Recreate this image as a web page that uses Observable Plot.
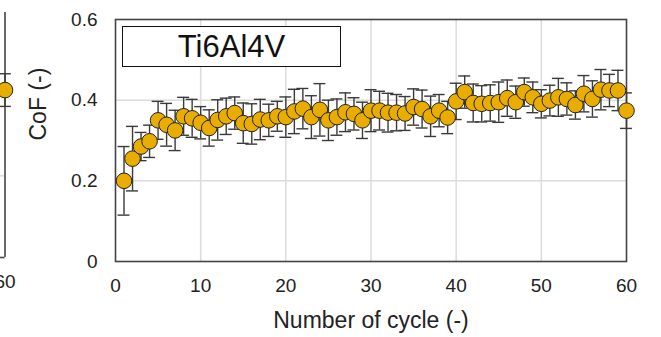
<!DOCTYPE html>
<html>
<head>
<meta charset="utf-8">
<script src="https://cdn.jsdelivr.net/npm/d3@7"></script>
<script src="https://cdn.jsdelivr.net/npm/@observablehq/plot@0.6"></script>
<style>
  html, body { margin: 0; padding: 0; background: #fff; }
  #wrap { position: relative; width: 661px; height: 337px; overflow: hidden; }
  #wrap svg { position: absolute; left: 0; top: 0; }
  #title {
    position: absolute; left: 122px; top: 26px; width: 219px; height: 41px;
    box-sizing: border-box; border: 1.5px solid #111; background: #fff;
    font-family: "Liberation Sans", Arial, sans-serif; font-size: 31px;
    line-height: 40px; text-align: center; color: #111;
  }
</style>
</head>
<body>
<div id="wrap"></div>
<script>
// ---- data ----
const cycles = [1,2,3,4,5,6,7,8,9,10,11,12,13,14,15,16,17,18,19,20,
  21,22,23,24,25,26,27,28,29,30,31,32,33,34,35,36,37,38,39,40,
  41,42,43,44,45,46,47,48,49,50,51,52,53,54,55,56,57,58,59,60];
const cof = [0.200,0.255,0.285,0.298,0.350,0.339,0.325,0.360,0.355,0.344,
  0.331,0.351,0.360,0.368,0.343,0.341,0.352,0.350,0.360,0.358,
  0.372,0.379,0.358,0.376,0.350,0.358,0.370,0.366,0.350,0.374,
  0.374,0.369,0.369,0.367,0.383,0.378,0.360,0.374,0.357,0.397,
  0.420,0.393,0.391,0.393,0.395,0.405,0.395,0.420,0.407,0.391,
  0.399,0.407,0.403,0.388,0.416,0.403,0.426,0.424,0.424,0.374];
const cofErr = [0.085,0.080,0.035,0.040,0.047,0.053,0.050,0.047,0.047,0.040,
  0.045,0.050,0.045,0.040,0.050,0.050,0.050,0.040,0.037,0.050,
  0.055,0.050,0.053,0.065,0.050,0.045,0.048,0.040,0.045,0.052,
  0.048,0.048,0.045,0.042,0.045,0.047,0.050,0.040,0.040,0.045,
  0.040,0.047,0.045,0.045,0.050,0.045,0.040,0.035,0.038,0.035,
  0.038,0.047,0.040,0.035,0.045,0.045,0.050,0.040,0.050,0.044];
const xTicks = [0,10,20,30,40,50,60];
const yTicks = [0,0.2,0.4,0.6];
const xGrid = [10,20,30,40,50];
const yGrid = [0.2,0.4];
const titleText = "Ti6Al4V";
const xLabel = "Number of cycle (-)";
const yLabel = "CoF (-)";
// neighbouring (cropped) panel on the left edge
const leftCycles = [60];
const leftCof = [0.41];
const leftErr = [0.04];
const leftTicks = [60];

const data = cycles.map((c, i) => ({cycle: c, cof: cof[i], lo: cof[i] - cofErr[i], hi: cof[i] + cofErr[i]}));
const leftData = leftCycles.map((c, i) => ({cycle: c, cof: leftCof[i], lo: leftCof[i] - leftErr[i], hi: leftCof[i] + leftErr[i]}));

const FONT = "'Liberation Sans', Arial, sans-serif";
const GOLD = "#e8ad00";
const GRID = "#dcdcdc";
const FRAME = "#444";
const BAR = "#3a3a3a";
const capHalf = 0.7;

const main = Plot.plot({
  width: 661, height: 337,
  marginLeft: 115, marginRight: 35, marginTop: 19, marginBottom: 76,
  x: {domain: [0, 60]},
  y: {domain: [0, 0.6]},
  style: {fontFamily: FONT, fontSize: "19px", color: "#222", background: "transparent"},
  marks: [
    Plot.gridX(xGrid, {stroke: GRID, strokeOpacity: 1, strokeWidth: 1.5}),
    Plot.gridY(yGrid, {stroke: GRID, strokeOpacity: 1, strokeWidth: 1.5}),
    Plot.frame({stroke: FRAME, strokeWidth: 1.6}),
    Plot.axisX(xTicks, {tickSize: 0, tickPadding: 17, label: null}),
    Plot.axisY(yTicks, {tickSize: 0, tickPadding: 18, label: null, tickFormat: d => d === 0 ? "0" : d.toFixed(1)}),
    Plot.ruleX(data, {x: "cycle", y1: "lo", y2: "hi", stroke: BAR, strokeWidth: 1.4}),
    Plot.ruleY(data, {y: "lo", x1: d => d.cycle - capHalf, x2: d => d.cycle + capHalf, stroke: BAR, strokeWidth: 1.4}),
    Plot.ruleY(data, {y: "hi", x1: d => d.cycle - capHalf, x2: d => d.cycle + capHalf, stroke: BAR, strokeWidth: 1.4}),
    Plot.dot(data, {x: "cycle", y: "cof", r: 7.8, fill: GOLD, stroke: "#222", strokeWidth: 1}),
    Plot.text([xLabel], {frameAnchor: "bottom", dy: 59.5, lineAnchor: "middle", fontSize: 23, fill: "#222"}),
    Plot.text([yLabel], {frameAnchor: "left", dx: -77, rotate: -90, lineAnchor: "middle", fontSize: 23, fill: "#222"})
  ]
});

const left = Plot.plot({
  width: 40, height: 337,
  marginLeft: 0, marginRight: 35.5, marginTop: 12, marginBottom: 80,
  x: {domain: [59.5, 60], axis: null},
  y: {domain: [0, 0.6], axis: null},
  style: {fontFamily: FONT, fontSize: "19px", color: "#222", background: "transparent"},
  marks: [
    Plot.gridY(yGrid, {stroke: GRID, strokeOpacity: 1, strokeWidth: 1.5}),
    Plot.ruleX(leftTicks, {stroke: FRAME, strokeWidth: 1.6}),
    Plot.ruleY([0], {stroke: FRAME, strokeWidth: 1.6}),
    Plot.axisX(leftTicks, {tickSize: 0, tickPadding: 17, label: null}),
    Plot.ruleX(leftData, {x: "cycle", y1: "lo", y2: "hi", stroke: BAR, strokeWidth: 1.4}),
    Plot.ruleY(leftData, {y: "lo", x1: d => d.cycle - capHalf, x2: d => d.cycle + capHalf, stroke: BAR, strokeWidth: 1.4}),
    Plot.ruleY(leftData, {y: "hi", x1: d => d.cycle - capHalf, x2: d => d.cycle + capHalf, stroke: BAR, strokeWidth: 1.4}),
    Plot.dot(leftData, {x: "cycle", y: "cof", r: 7.8, fill: GOLD, stroke: "#222", strokeWidth: 1})
  ]
});

const wrap = document.getElementById("wrap");
wrap.appendChild(main);
wrap.appendChild(left);
const t = document.createElement("div");
t.id = "title";
t.textContent = titleText;
wrap.appendChild(t);
</script>
</body>
</html>
